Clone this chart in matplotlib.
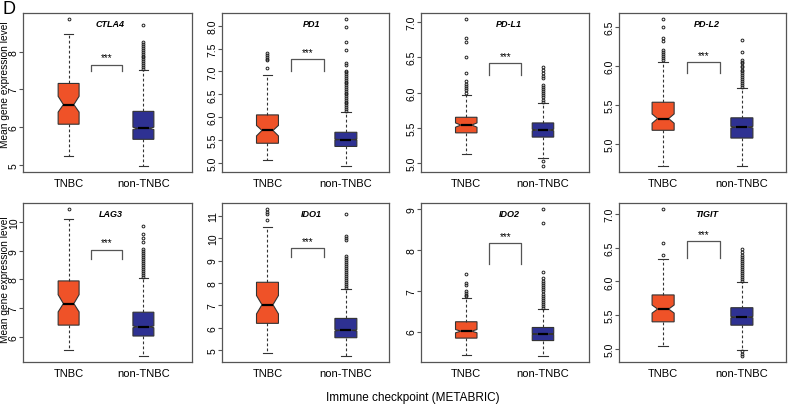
import numpy as np
import matplotlib.pyplot as plt
import matplotlib.transforms as mtransforms

plt.rcParams['font.family'] = ['Liberation Sans', 'DejaVu Sans']

# ---------------------------
# Data
# ---------------------------
genes = ["CTLA4", "PD1", "PD-L1", "PD-L2", "LAG3", "IDO1", "IDO2", "TIGIT"]
groups = ["TNBC", "non-TNBC"]

# [whisker low, Q1, median, Q3, whisker high]
tnbc_summary = [
    [5.25, 6.08, 6.60, 7.16, 8.48],
    [5.07, 5.43, 5.71, 6.05, 6.93],
    [5.13, 5.43, 5.54, 5.65, 5.97],
    [4.71, 5.17, 5.32, 5.53, 6.05],
    [5.56, 6.41, 7.16, 7.95, 10.12],
    [4.88, 6.20, 7.03, 8.03, 10.48],
    [5.42, 5.84, 6.01, 6.24, 6.82],
    [5.04, 5.40, 5.59, 5.80, 6.33],
]
tnbc_notch = [
    [6.40, 6.82], [5.59, 5.82], [5.51, 5.57], [5.26, 5.38],
    [6.87, 7.47], [6.62, 7.44], [5.97, 6.05], [5.53, 5.65],
]
nontnbc_summary = [
    [4.97, 5.68, 5.97, 6.42, 7.52],
    [4.93, 5.36, 5.51, 5.67, 6.12],
    [5.08, 5.37, 5.47, 5.57, 5.85],
    [4.71, 5.07, 5.21, 5.33, 5.71],
    [5.33, 6.03, 6.35, 6.86, 8.06],
    [4.74, 5.56, 5.89, 6.42, 7.73],
    [5.40, 5.78, 5.94, 6.10, 6.55],
    [4.98, 5.35, 5.47, 5.61, 5.99],
]
nontnbc_notch = [
    [5.94, 6.00], [5.50, 5.52], [5.46, 5.48], [5.20, 5.22],
    [6.32, 6.38], [5.86, 5.92], [5.93, 5.95], [5.46, 5.48],
]

tnbc_fliers = [
    [8.87],
    [7.08, 7.24, 7.28, 7.32, 7.36, 7.40],
    [6.00, 6.03, 6.06, 6.09, 6.12, 6.16, 6.28, 6.50, 6.72, 6.77, 7.04],
    [6.07, 6.10, 6.12, 6.15, 6.17, 6.20, 6.32, 6.35, 6.50, 6.60],
    [10.46],
    [10.80, 11.05, 11.18, 11.30],
    [6.86, 6.90, 6.95, 7.00, 7.15, 7.20, 7.42],
    [6.40, 6.57, 7.08],
]
nontnbc_fliers = [
    [7.55, 7.60, 7.65, 7.70, 7.75, 7.80, 7.85, 7.90, 7.95, 8.00, 8.05,
     8.10, 8.15, 8.20, 8.27, 8.71],
    [6.14, 6.18, 6.22, 6.26, 6.30, 6.34, 6.38, 6.42, 6.46, 6.50, 6.54,
     6.58, 6.62, 6.66, 6.70, 6.74, 6.78, 6.82, 6.86, 6.90, 6.94, 6.98,
     7.02, 7.14, 7.18, 7.48, 7.64, 7.97, 8.15],
    [4.96, 5.03, 5.87, 5.90, 5.93, 5.96, 5.99, 6.02, 6.05, 6.08, 6.11,
     6.20, 6.24, 6.28, 6.32, 6.36],
    [5.73, 5.75, 5.78, 5.80, 5.83, 5.85, 5.88, 5.90, 5.93, 5.95, 5.98,
     6.00, 6.03, 6.05, 6.07, 6.17, 6.33],
    [8.10, 8.17, 8.24, 8.31, 8.38, 8.45, 8.52, 8.59, 8.66, 8.73, 8.80,
     8.87, 8.94, 9.01, 9.05, 9.30, 9.45, 9.60, 9.85],
    [7.78, 7.87, 7.96, 8.05, 8.14, 8.23, 8.32, 8.41, 8.50, 8.59, 8.68,
     8.77, 8.86, 8.95, 9.04, 9.13, 9.20, 9.90, 10.00, 10.10, 11.05],
    [6.58, 6.63, 6.68, 6.73, 6.78, 6.83, 6.88, 6.93, 6.98, 7.03, 7.08,
     7.13, 7.18, 7.23, 7.30, 7.45, 8.65, 9.00],
    [4.89, 4.92, 4.96, 6.01, 6.04, 6.07, 6.10, 6.13, 6.16, 6.19, 6.22,
     6.25, 6.28, 6.31, 6.34, 6.37, 6.40, 6.44, 6.48],
]

# significance bracket [top, leg end]
bracket_y = [
    [7.66, 7.50], [7.27, 7.02], [6.42, 6.25], [6.05, 5.90],
    [9.04, 8.70], [9.55, 9.15], [8.17, 7.66], [6.60, 6.35],
]

ytick_labels = [
    ["5", "6", "7", "8"],
    ["5.0", "5.5", "6.0", "6.5", "7.0", "7.5", "8.0"],
    ["5.0", "5.5", "6.0", "6.5", "7.0"],
    ["5.0", "5.5", "6.0", "6.5"],
    ["6", "7", "8", "9", "10"],
    ["5", "6", "7", "8", "9", "10", "11"],
    ["6", "7", "8", "9"],
    ["5.0", "5.5", "6.0", "6.5", "7.0"],
]

box_colors = ["#EF5228", "#2E3192"]

# ---------------------------
# Layout (pixels: left, right, top, bottom)
# ---------------------------
W, H = 788, 406
frames = [(23, 192, 14, 173), (222, 389, 14, 173), (421, 589, 14, 173), (619, 786, 14, 173),
          (23, 192, 204, 363), (222, 389, 204, 363), (421, 589, 204, 363), (619, 786, 204, 363)]
xlims = [(0.39, 2.65), (0.42, 2.55), (0.41, 2.60), (0.44, 2.56),
         (0.39, 2.65), (0.42, 2.55), (0.41, 2.60), (0.44, 2.56)]

fig = plt.figure(figsize=(W / 100, H / 100), dpi=100)
edge = "#333333"
frame_col = "#555555"

for i, gene in enumerate(genes):
    l, r, t, b = frames[i]
    ax = fig.add_axes([l / W, 1 - b / H, (r - l) / W, (b - t) / H])

    stats = []
    for summ, notch, fl in ((tnbc_summary[i], tnbc_notch[i], tnbc_fliers[i]),
                            (nontnbc_summary[i], nontnbc_notch[i], nontnbc_fliers[i])):
        lo, q1, med, q3, hi = summ
        stats.append(dict(whislo=lo, q1=q1, med=med, q3=q3, whishi=hi,
                          cilo=notch[0], cihi=notch[1], fliers=fl))

    bp = ax.bxp(stats, positions=[1, 2], widths=0.28, shownotches=True,
                patch_artist=True, capwidths=0.12,
                boxprops=dict(edgecolor=edge, linewidth=0.8),
                whiskerprops=dict(color=edge, linewidth=0.8, linestyle=(0, (2.5, 2))),
                capprops=dict(color=edge, linewidth=0.8),
                medianprops=dict(color="black", linewidth=1.6),
                flierprops=dict(marker="o", markersize=2.0, markerfacecolor="none",
                                markeredgecolor="#222222", markeredgewidth=0.7))
    for patch, c in zip(bp["boxes"], box_colors):
        patch.set_facecolor(c)

    # y range like R (4% padding)
    vals = tnbc_summary[i] + nontnbc_summary[i] + tnbc_fliers[i] + nontnbc_fliers[i]
    lo, hi = min(vals), max(vals)
    pad = 0.04 * (hi - lo)
    ax.set_ylim(lo - pad, hi + pad)
    ax.set_xlim(*xlims[i])

    # significance bracket
    top, leg = bracket_y[i]
    ax.plot([1.30, 1.30, 1.72, 1.72], [leg, top, top, leg], color="#555555", lw=0.9)
    ax.annotate("***", xy=(1.51, top), xytext=(0, 1.5), textcoords="offset points",
                ha="center", va="bottom", fontsize=7)

    trans = mtransforms.blended_transform_factory(ax.transData, ax.transAxes)
    ax.text(1.56, 0.935, gene, transform=trans, ha="center", va="center",
            fontsize=6.5, style="italic", weight="bold")

    ticks = [float(s) for s in ytick_labels[i]]
    ax.set_yticks(ticks)
    ax.set_yticklabels(ytick_labels[i], rotation=90, va="center")
    ax.set_xticks([1, 2])
    ax.set_xticklabels(groups)
    ax.tick_params(axis="y", length=3, width=0.8, pad=0, labelsize=7.5, color=frame_col)
    ax.tick_params(axis="x", length=0, pad=4, labelsize=8)
    for sp in ax.spines.values():
        sp.set_color(frame_col)
        sp.set_linewidth(0.9)

fig.text(5 / W, 1 - 85 / H, "Mean gene expression level", rotation=90,
         ha="center", va="center", fontsize=7.3)
fig.text(5 / W, 1 - 280 / H, "Mean gene expression level", rotation=90,
         ha="center", va="center", fontsize=7.3)
fig.text(2 / W, 1 - 1 / H, "D", fontsize=13, ha="left", va="top")
fig.text(413 / W, 1 - 398 / H, "Immune checkpoint (METABRIC)", ha="center",
         va="center", fontsize=8.5)

fig.savefig("out.png", dpi=100)
